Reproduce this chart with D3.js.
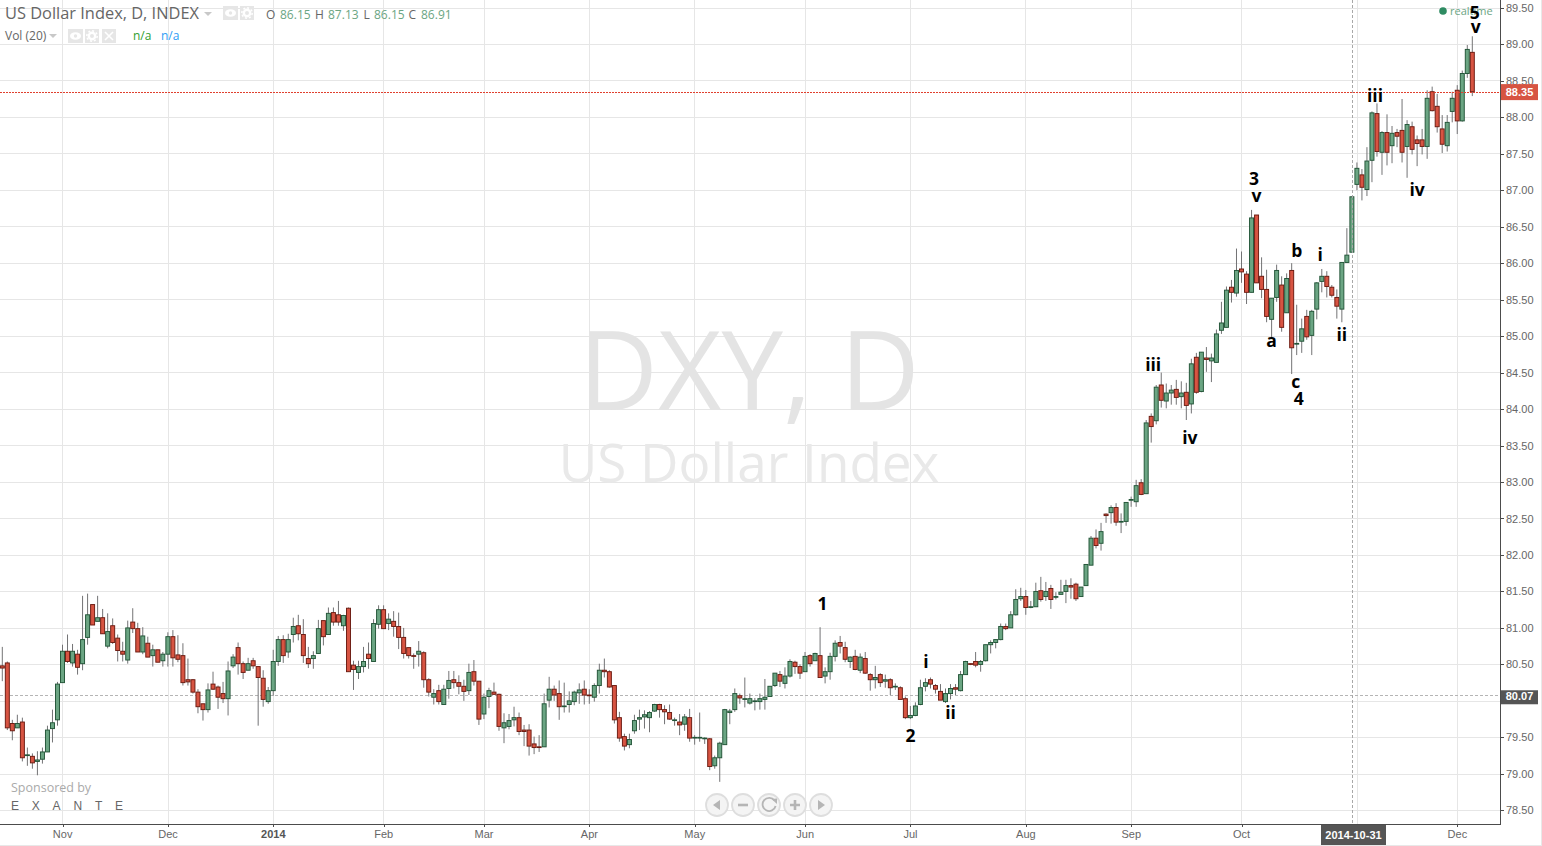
<!DOCTYPE html>
<html><head><meta charset="utf-8">
<style>html,body{margin:0;padding:0;background:#fff;overflow:hidden}svg{display:block}</style>
<script src="https://cdn.jsdelivr.net/npm/d3@7/dist/d3.min.js"></script>
</head><body><svg id="c" width="1542" height="846"></svg>
<script>
const opens=[
80.48,80.52,79.69,79.63,79.71,79.25,79.24,79.17,79.20,79.30,
79.62,79.74,80.25,80.68,80.52,80.64,80.51,80.87,81.32,81.09,
81.14,80.75,81.03,80.86,80.68,80.56,81.08,80.99,80.67,80.79,
80.62,80.70,80.55,80.64,80.88,80.63,80.62,80.29,80.29,80.12,
79.96,79.88,80.23,80.19,80.10,80.03,80.48,80.73,80.51,80.42,
80.55,80.47,80.31,79.99,80.14,80.54,80.84,80.67,80.91,81.03,
80.91,80.58,80.58,80.65,81.10,80.91,81.21,81.18,81.03,81.27,
80.49,80.39,80.47,80.64,80.54,81.05,81.25,81.06,81.09,81.02,
80.87,80.73,80.62,80.64,80.66,80.29,80.05,80.14,79.95,80.17,
80.29,80.25,80.20,80.14,80.40,80.27,79.82,80.06,80.12,80.09,
79.63,79.65,79.74,79.77,79.60,79.60,79.41,79.37,79.37,80.01,
80.16,80.10,79.92,79.95,79.99,80.11,80.16,80.08,80.05,80.21,
80.42,80.40,80.21,79.77,79.51,79.40,79.59,79.75,79.78,79.77,
79.86,79.95,79.88,79.84,79.73,79.71,79.68,79.77,79.49,79.49,
79.48,79.48,79.11,79.22,79.40,79.84,79.88,80.07,80.02,79.97,
79.99,79.99,80.02,80.06,80.21,80.36,80.24,80.34,80.53,80.47,
80.40,80.62,80.55,80.62,80.34,80.40,80.61,80.80,80.73,80.54,
80.61,80.42,80.58,80.36,80.29,80.36,80.27,80.29,80.19,80.18,
80.03,79.77,79.80,79.95,80.20,80.29,80.21,80.13,79.99,80.10,
80.18,80.14,80.36,80.51,80.54,80.50,80.55,80.77,80.80,80.84,
81.02,81.00,81.18,81.40,81.43,81.28,81.29,81.51,81.43,81.54,
81.42,81.46,81.50,81.58,81.60,81.43,81.58,81.86,82.23,82.16,
82.56,82.58,82.65,82.45,82.46,82.75,82.73,82.99,82.84,83.90,
83.84,84.33,84.11,84.22,84.27,84.17,84.23,84.07,84.71,84.24,
84.70,84.66,84.64,85.08,85.12,85.67,85.59,85.92,85.85,85.60,
86.66,85.82,85.64,85.23,85.53,85.70,85.32,85.90,84.89,84.93,
85.27,85.01,85.37,85.75,85.82,85.67,85.53,85.37,86.01,86.15,
87.08,87.21,87.01,87.41,88.05,87.52,87.79,87.61,87.79,87.82,
87.60,87.87,87.69,87.69,87.60,88.35,88.15,87.84,87.61,88.08,
88.37,87.95,88.60,88.89];
const highs=[
80.74,80.54,79.74,79.81,79.77,79.36,79.28,79.31,79.36,79.66,
79.88,80.26,80.77,80.91,80.78,80.70,81.44,81.47,81.32,81.44,
81.26,81.20,81.13,80.91,80.81,81.10,81.27,81.07,81.01,80.88,
80.77,80.70,80.67,80.94,80.97,80.90,80.79,80.58,80.30,80.16,
79.96,80.24,80.40,80.21,80.26,80.54,80.64,80.80,80.54,80.59,
80.59,80.47,80.42,80.19,80.70,80.89,80.90,80.92,81.14,81.18,
81.12,80.74,80.68,81.11,81.10,81.28,81.28,81.37,81.18,81.28,
80.55,80.55,80.74,80.80,81.12,81.31,81.31,81.20,81.23,81.21,
81.00,80.73,80.65,80.82,80.68,80.31,80.16,80.22,80.22,80.41,
80.41,80.35,80.29,80.51,80.56,80.27,80.10,80.18,80.25,80.10,
79.83,79.82,79.92,79.84,79.67,79.68,79.51,79.53,80.10,80.33,
80.21,80.28,80.25,80.13,80.14,80.24,80.28,80.16,80.24,80.51,
80.58,80.42,80.21,79.85,79.55,79.55,79.81,79.88,79.87,79.86,
79.96,79.96,79.94,79.95,79.77,79.82,79.82,79.89,79.53,79.84,
79.50,79.49,79.25,79.44,79.89,79.89,80.17,80.10,80.32,80.10,
80.04,80.10,80.30,80.20,80.38,80.41,80.46,80.57,80.55,80.50,
80.67,80.64,80.66,81.01,80.46,80.66,80.83,80.89,80.81,80.61,
80.70,80.65,80.67,80.38,80.48,80.38,80.36,80.31,80.24,80.20,
80.06,79.93,79.98,80.29,80.31,80.32,80.23,80.23,80.17,80.23,
80.23,80.41,80.55,80.51,80.67,80.56,80.77,80.83,80.84,81.06,
81.06,81.23,81.53,81.55,81.52,81.37,81.62,81.70,81.63,81.59,
81.49,81.66,81.66,81.68,81.62,81.56,81.87,82.26,82.35,82.44,
82.57,82.68,82.71,82.57,82.72,82.80,83.03,83.04,83.85,83.94,
84.33,84.50,84.35,84.33,84.40,84.38,84.36,84.69,84.77,84.78,
84.85,84.76,85.09,85.47,85.68,85.77,86.20,86.16,85.89,86.73,
86.66,86.08,85.91,85.52,85.98,85.82,85.86,86.00,85.43,85.24,
85.36,85.36,85.74,85.92,85.89,85.70,85.64,86.01,86.48,86.91,
87.38,87.29,87.59,88.08,88.19,87.81,88.04,87.88,87.84,88.25,
87.96,87.94,87.75,87.84,88.37,88.42,88.32,88.03,88.03,88.35,
88.44,88.64,88.99,89.11];
const lows=[
80.27,79.60,79.46,79.63,79.17,79.11,79.07,78.98,79.14,79.30,
79.43,79.66,80.25,80.52,80.47,80.36,80.42,80.77,81.04,81.09,
80.92,80.72,80.78,80.54,80.54,80.51,80.93,80.67,80.64,80.60,
80.47,80.53,80.47,80.47,80.47,80.53,80.21,80.21,80.10,79.83,
79.73,79.84,80.15,79.89,79.97,79.80,80.45,80.36,80.30,80.42,
80.44,79.66,79.92,79.96,80.07,80.48,80.52,80.59,80.80,80.83,
80.52,80.45,80.44,80.65,80.76,80.91,81.03,81.03,80.96,80.40,
80.15,80.30,80.39,80.44,80.54,80.99,80.99,80.97,80.88,80.71,
80.58,80.58,80.44,80.47,80.18,80.06,79.95,79.95,79.95,80.03,
80.17,80.09,80.00,80.08,80.21,79.67,79.75,79.90,80.08,79.59,
79.42,79.61,79.65,79.53,79.38,79.25,79.27,79.30,79.37,79.91,
80.00,79.74,79.84,79.84,79.94,79.96,79.95,79.96,79.99,80.10,
80.32,80.18,79.69,79.44,79.32,79.35,79.55,79.60,79.62,79.57,
79.85,79.77,79.68,79.74,79.66,79.53,79.59,79.44,79.40,79.44,
79.41,79.05,79.07,78.89,79.40,79.68,79.85,79.96,79.91,79.95,
79.87,79.88,79.88,80.06,80.19,80.19,80.17,80.32,80.37,80.30,
80.40,80.47,80.55,80.32,80.24,80.29,80.54,80.65,80.53,80.45,
80.42,80.38,80.37,80.14,80.17,80.19,80.18,80.08,80.15,80.02,
79.75,79.75,79.79,79.94,80.13,80.17,80.10,80.01,79.97,80.02,
80.08,80.13,80.36,80.49,80.46,80.40,80.54,80.65,80.72,80.83,
80.97,81.00,81.17,81.37,81.18,81.27,81.29,81.36,81.37,81.26,
81.39,81.46,81.34,81.40,81.37,81.43,81.58,81.86,82.09,82.06,
82.44,82.43,82.40,82.30,82.40,82.66,82.66,82.82,82.84,83.54,
83.79,84.02,84.01,84.06,84.06,84.01,83.85,83.94,84.21,84.23,
84.51,84.37,84.64,85.03,85.12,85.46,85.54,85.73,85.44,85.60,
85.73,85.52,85.19,84.96,85.47,85.06,85.32,84.48,84.74,84.77,
84.95,84.74,85.23,85.60,85.53,85.53,85.24,85.19,86.01,86.15,
87.00,86.86,86.92,87.11,87.46,87.21,87.34,87.37,87.59,87.38,
87.17,87.49,87.33,87.49,87.43,88.08,87.79,87.51,87.53,87.93,
87.77,87.94,88.54,88.29];
const closes=[
80.45,79.63,79.59,79.69,79.22,79.26,79.15,79.19,79.30,79.60,
79.70,80.23,80.68,80.54,80.68,80.46,80.84,81.18,81.04,81.14,
80.92,80.95,80.80,80.69,80.64,81.00,80.99,80.67,80.89,80.60,
80.70,80.53,80.64,80.88,80.59,80.57,80.25,80.26,80.12,79.92,
79.88,80.15,80.16,80.05,80.03,80.41,80.60,80.51,80.39,80.51,
80.48,80.32,80.02,80.14,80.54,80.84,80.62,80.84,81.02,80.92,
80.62,80.51,80.62,80.99,80.88,81.20,81.08,81.08,81.17,80.40,
80.43,80.47,80.54,80.58,81.06,81.25,80.99,81.12,81.02,80.87,
80.65,80.62,80.61,80.68,80.29,80.12,80.10,79.99,80.16,80.28,
80.25,80.20,80.13,80.39,80.27,79.75,80.05,80.14,80.09,79.65,
79.70,79.73,79.77,79.58,79.58,79.38,79.36,79.36,79.96,80.16,
80.08,79.92,79.93,80.00,80.12,80.15,80.08,80.07,80.21,80.42,
80.40,80.19,79.74,79.49,79.38,79.47,79.73,79.77,79.81,79.84,
79.95,79.88,79.85,79.75,79.74,79.67,79.78,79.49,79.50,79.50,
79.49,79.10,79.22,79.42,79.88,79.86,80.10,80.04,80.03,80.03,
80.00,80.03,80.05,80.20,80.38,80.27,80.34,80.54,80.47,80.38,
80.61,80.51,80.65,80.32,80.40,80.61,80.79,80.75,80.57,80.60,
80.43,80.60,80.38,80.29,80.32,80.25,80.29,80.18,80.20,80.02,
79.77,79.80,79.93,80.18,80.25,80.23,80.16,80.01,80.10,80.17,
80.16,80.36,80.54,80.50,80.49,80.54,80.77,80.80,80.84,81.02,
80.99,81.18,81.39,81.43,81.28,81.29,81.50,81.39,81.50,81.39,
81.43,81.49,81.58,81.56,81.40,81.56,81.87,82.23,82.13,82.32,
82.54,82.65,82.45,82.46,82.72,82.76,82.95,82.83,83.81,83.76,
84.30,84.12,84.22,84.26,84.16,84.22,84.05,84.62,84.23,84.78,
84.68,84.70,85.03,85.18,85.63,85.60,85.90,85.88,85.60,86.62,
85.73,85.64,85.27,85.52,85.90,85.12,85.79,84.84,84.90,85.10,
84.99,85.34,85.73,85.82,85.68,85.56,85.41,86.01,86.11,86.91,
87.30,87.04,87.40,88.06,87.53,87.79,87.52,87.78,87.74,87.52,
87.90,87.56,87.64,87.60,88.26,88.09,87.87,87.63,87.93,88.26,
87.95,88.60,88.93,88.35];

const monthLabels=["Nov","Dec","2014","Feb","Mar","Apr","May","Jun","Jul","Aug","Sep","Oct","","Dec"];
const monthBars=[12,33,54,76,96,117,138,160,181,204,225,247,270,290];
const priceTicks=[78.5,79,79.5,80,80.5,81,81.5,82,82.5,83,83.5,84,84.5,85,85.5,86,86.5,87,87.5,88,88.5,89,89.5];
const waveLabels=["1","2","i","ii","iii","iv","3","v","a","b","i","ii","c","4","iii","iv","5","v"];
const waveBars=[163.5,181,184.1,189,229.4,236.7,249.5,250,253,258,262.7,267,257.8,258.4,273.6,282,293.5,293.7];
const wavePrices=[81.34,79.53,80.55,79.85,84.62,83.62,87.17,86.94,84.94,86.18,86.12,85.03,84.38,84.15,88.30,87.01,89.44,89.25];
const lastPrice=88.35, prevClose=80.07, crossBar=269, crossDate="2014-10-31";
const legendLabels=["O","H","L","C"], legendValues=["86.15","87.13","86.15","86.91"];

const svg=d3.select("#c");
const FONT='"Open Sans",sans-serif', AX='"Liberation Sans",Arial,sans-serif';
const x=d3.scaleLinear().domain([0,293]).range([2.3,1472.3]);
const y=d3.scaleLinear().domain([78.5,89]).range([810.3,44.3]);
const px=v=>Math.round(v)+0.5;
const GRID="#e6e6e6", AXC="#4c4c4c", GREEN="#6ba583", RED="#d75442", GB="#225437", RB="#6b1a10", WICK="#737375";

// Grid
const grid=svg.append("g");
grid.selectAll("line.h").data(priceTicks).join("line").attr("x1",0).attr("x2",1500)
 .attr("y1",d=>px(y(d)-.3)).attr("y2",d=>px(y(d)-.3)).attr("stroke",GRID);
grid.selectAll("line.v").data(monthBars).join("line").attr("y1",0).attr("y2",824)
 .attr("x1",d=>px(x(d)-.3)).attr("x2",d=>px(x(d)-.3)).attr("stroke",GRID);

// Watermark
svg.append("text").text("DXY, D").attr("x",749).attr("y",410).attr("text-anchor","middle")
 .attr("font-family",FONT).attr("font-size",110).attr("fill","#e4e4e4");
svg.append("text").text("US Dollar Index").attr("x",749).attr("y",482).attr("text-anchor","middle")
 .attr("font-family",FONT).attr("font-size",53).attr("fill","#e9e9e9");

// Reference lines
svg.append("line").attr("x1",0).attr("x2",1500).attr("y1",px(y(prevClose)-.6)).attr("y2",px(y(prevClose)-.6))
 .attr("stroke","#b5b5b5").attr("stroke-dasharray","3 2");

// Candles
const idx=d3.range(opens.length);
svg.append("g").selectAll("line").data(idx).join("line")
 .attr("x1",i=>x(i)).attr("x2",i=>x(i)).attr("y1",i=>y(highs[i])).attr("y2",i=>y(lows[i]))
 .attr("stroke",WICK).attr("stroke-width",1);
svg.append("g").selectAll("rect").data(idx).join("rect")
 .attr("x",i=>x(i)-2).attr("width",4)
 .attr("y",i=>y(Math.max(opens[i],closes[i])))
 .attr("height",i=>Math.max(0.3,Math.abs(y(opens[i])-y(closes[i]))))
 .attr("fill",i=>closes[i]<opens[i]?RED:GREEN)
 .attr("stroke",i=>closes[i]<opens[i]?RB:GB).attr("stroke-width",0.95);

// Last price and crosshair
svg.append("line").attr("x1",0).attr("x2",1500)
 .attr("y1",px(y(lastPrice))).attr("y2",px(y(lastPrice)))
 .attr("stroke","#e0402e").attr("stroke-dasharray","2 1");
svg.append("line").attr("y1",0).attr("y2",824).attr("x1",px(x(crossBar))).attr("x2",px(x(crossBar)))
 .attr("stroke","#a8a8a8").attr("stroke-dasharray","3 2");

// realtime
svg.append("circle").attr("cx",1443).attr("cy",11).attr("r",3.8).attr("fill","#2e8b62");
svg.append("text").text("realtime").attr("x",1450).attr("y",15).attr("font-family",FONT).attr("font-size",11).attr("fill","#6ba583");

// Wave labels
svg.append("g").selectAll("text").data(waveLabels).join("text").text(d=>d)
 .attr("x",(d,i)=>x(waveBars[i])).attr("y",(d,i)=>y(wavePrices[i]))
 .attr("text-anchor","middle").attr("dominant-baseline","central")
 .attr("font-family",FONT).attr("font-weight",700).attr("font-size",17.5).attr("fill","#000");

// Axes
const yAxis=d3.axisRight(y).tickValues(priceTicks).tickSize(4).tickPadding(2).tickFormat(d=>d===80?"":d3.format(".2f")(d));
const gy=svg.append("g").attr("transform","translate(1500,0)").call(yAxis);
const xAxis=d3.axisBottom(x).tickValues(monthBars).tickSize(3).tickPadding(3).tickFormat((d,i)=>monthLabels[i]);
const gx=svg.append("g").attr("transform","translate(0,824)").call(xAxis);
[gy,gx].forEach(g=>{
 g.select(".domain").remove();
 g.selectAll("line").attr("stroke",AXC).attr("shape-rendering","crispEdges");
 g.selectAll("text").attr("font-family",AX).attr("font-size",11).attr("fill","#666");
});
gx.selectAll("text").attr("dx",-0.4).attr("font-weight",d=>d===54?"bold":"normal").attr("fill",d=>d===54?"#555":"#666");
svg.append("line").attr("x1",0).attr("x2",1500.5).attr("y1",824.5).attr("y2",824.5).attr("stroke",AXC);
svg.append("line").attr("x1",1500.5).attr("x2",1500.5).attr("y1",0).attr("y2",825).attr("stroke",AXC);
svg.append("line").attr("x1",0).attr("x2",1542).attr("y1",845.5).attr("y2",845.5).attr("stroke","#e8e8e8");
svg.append("line").attr("x1",1541.5).attr("x2",1541.5).attr("y1",0).attr("y2",846).attr("stroke","#e8e8e8");

// Price and date tags
function tag(bx,by,w,h,fill,label,tx,ty){
 svg.append("rect").attr("x",bx).attr("y",by).attr("width",w).attr("height",h).attr("fill",fill);
 svg.append("text").text(label).attr("x",tx).attr("y",ty).attr("text-anchor","middle").attr("font-family",AX)
  .attr("font-size",11).attr("font-weight","bold").attr("fill","#fff");
}
tag(1501,y(lastPrice)-7.6,37,16,RED,d3.format(".2f")(lastPrice),1519.5,y(lastPrice)+4.6);
tag(1501,y(prevClose)-5.5,37,14,"#555",d3.format(".2f")(prevClose),1519.5,y(prevClose)+4.4);
tag(1321,825,65,20,"#555",crossDate,1353.5,839);

// Header
const hdr=svg.append("g").attr("font-family",FONT);
hdr.append("text").text("US Dollar Index, D, INDEX").attr("x",5).attr("y",19).attr("font-size",16.4).attr("fill","#666");
hdr.append("path").attr("d","M204 12h8l-4 4z").attr("fill","#c8c8c8");
hdr.append("text").text("Vol (20)").attr("x",5).attr("y",40).attr("font-size",12).attr("fill","#666");
hdr.append("path").attr("d","M49 34h8l-4 4z").attr("fill","#c8c8c8");
const legendX=[266,280,315,328,363.5,374,408.5,421];
legendLabels.forEach((l,i)=>{
 hdr.append("text").text(l).attr("x",legendX[i*2]).attr("y",19).attr("font-size",12).attr("fill","#666");
 hdr.append("text").text(legendValues[i]).attr("x",legendX[i*2+1]).attr("y",19).attr("font-size",12).attr("fill","#6ba583");
});
hdr.append("text").text("n/a").attr("x",133).attr("y",40).attr("font-size",12).attr("fill","#2f9e2f");
hdr.append("text").text("n/a").attr("x",161).attr("y",40).attr("font-size",12).attr("fill","#2d9cf5");
function eye(cx,cy){
 hdr.append("rect").attr("x",cx-7.5).attr("y",cy-7).attr("width",15).attr("height",14).attr("fill","#e6e6e6");
 hdr.append("ellipse").attr("cx",cx).attr("cy",cy).attr("rx",5.5).attr("ry",3.8).attr("fill","#fff");
 hdr.append("circle").attr("cx",cx).attr("cy",cy).attr("r",1.7).attr("fill","#e6e6e6");
}
function gear(cx,cy){
 hdr.append("rect").attr("x",cx-7).attr("y",cy-7).attr("width",14).attr("height",14).attr("fill","#e6e6e6");
 hdr.append("circle").attr("cx",cx).attr("cy",cy).attr("r",3.2).attr("fill","none").attr("stroke","#fff").attr("stroke-width",2.4);
 hdr.append("circle").attr("cx",cx).attr("cy",cy).attr("r",5.2).attr("fill","none").attr("stroke","#fff").attr("stroke-width",1.5).attr("stroke-dasharray","2 2");
}
eye(230.5,13); gear(247,13); eye(75.5,36); gear(92,36);
hdr.append("rect").attr("x",102).attr("y",29).attr("width",14).attr("height",14).attr("fill","#e6e6e6");
hdr.append("path").attr("d","M105 32l8 8M113 32l-8 8").attr("stroke","#fff").attr("stroke-width",1.6);

// Sponsor
svg.append("text").text("Sponsored by").attr("x",11).attr("y",792).attr("font-family",FONT).attr("font-size",12.5).attr("fill","#aaa");
svg.append("text").text("EXANTE").attr("x",11).attr("y",810).attr("font-family",AX).attr("font-size",12).attr("letter-spacing","12.8px").attr("fill","#666");

// Navigation buttons
const navX=[717,743,769,795,821];
const nav=svg.append("g");
navX.forEach(cx=>nav.append("circle").attr("cx",cx).attr("cy",805).attr("r",11).attr("fill","#f4f4f4").attr("stroke","#dedede").attr("stroke-width",1.8));
nav.append("path").attr("d","M713 805l7-5v10z").attr("fill","#b5b5b5");
nav.append("rect").attr("x",738).attr("y",803.7).attr("width",10).attr("height",2.6).attr("fill","#b5b5b5");
nav.append("path").attr("d","M774.5 800.5A6.6 6.6 0 1 0 775.6 806").attr("fill","none").attr("stroke","#b5b5b5").attr("stroke-width",1.8);
nav.append("path").attr("d","M771.5 799l5.5-.5v5.5z").attr("fill","#b5b5b5");
nav.append("path").attr("d","M790 803.7h3.7V800h2.6v3.7h3.7v2.6h-3.7v3.7h-2.6v-3.7H790z").attr("fill","#b5b5b5");
nav.append("path").attr("d","M825 805l-7-5v10z").attr("fill","#b5b5b5");
</script></body></html>
